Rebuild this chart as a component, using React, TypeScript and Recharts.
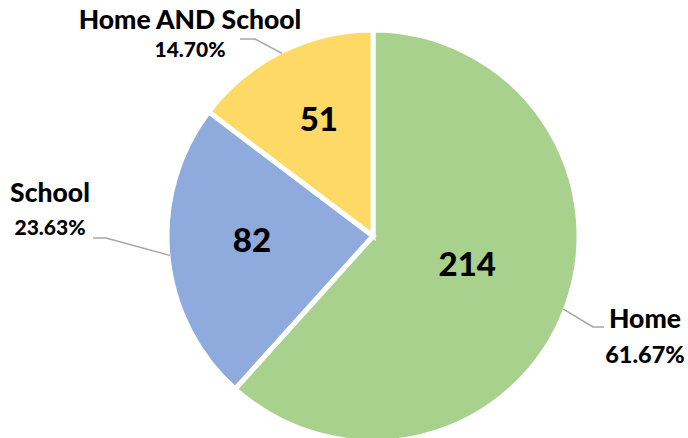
import React from "react";
import { PieChart, Pie, Cell } from "recharts";

const categories = ["Home", "School", "Home AND School"];
const counts = [214, 82, 51];
const percentLabels = ["61.67%", "23.63%", "14.70%"];
const colors = ["#A9D18E", "#8FAADC", "#FFD966"];

const data = categories.map((name, i) => ({ name, value: counts[i], pct: percentLabels[i] }));

// label layout (offsets from pie centre), per slice
const labelLayout = [
    { text: [272, 82], gap: 36, pctSize: 23.5, elbow: [220, 91], end: [231, 91], inner: 0.49 },
    { text: [-323, -44], gap: 34, pctSize: 21, elbow: [-267, 2], end: [-280, 2], inner: 0.59 },
    { text: [-183, -217], gap: 29, pctSize: 21, elbow: [-118, -197], end: [-133, -197], inner: 0.59 },
];

const RAD = Math.PI / 180;
const FONT = "Lato, 'Open Sans', sans-serif";

const renderLabel = (props: any) => {
    const { cx, cy, midAngle, outerRadius, index, value, payload } = props;
    const lay = labelLayout[index];
    const r = outerRadius - 2;
    const ex = cx + r * Math.cos(-midAngle * RAD);
    const ey = cy + r * Math.sin(-midAngle * RAD);
    const ir = outerRadius * lay.inner;
    const ix = cx + ir * Math.cos(-midAngle * RAD);
    const iy = cy + ir * Math.sin(-midAngle * RAD) - 9;
    const tx = cx + lay.text[0];
    const ty = cy + lay.text[1];
    return (
        <g>
            <polyline
                points={`${ex},${ey} ${cx + lay.elbow[0]},${cy + lay.elbow[1]} ${cx + lay.end[0]},${cy + lay.end[1]}`}
                fill="none"
                stroke="#A6A6A6"
                strokeWidth={1.5}
            />
            <text x={ix} y={iy} textAnchor="middle" dominantBaseline="central" fontFamily={FONT} fontWeight={900} fontSize={33} fill="#000">
                {value}
            </text>
            <text x={tx} y={ty} textAnchor="middle" dominantBaseline="central" fontFamily={FONT} fontWeight={900} fontSize={26.5} fill="#000">
                {payload.name}
            </text>
            <text x={tx} y={ty + lay.gap} textAnchor="middle" dominantBaseline="central" fontFamily={FONT} fontWeight={900} fontSize={lay.pctSize} fill="#000">
                {payload.pct}
            </text>
        </g>
    );
};

const App = () => {
    return (
        <div style={{ position: "absolute", left: 0, top: 0, width: 688, height: 438, background: "#fff" }}>
            <PieChart width={688} height={438}>
                <Pie
                    data={data}
                    dataKey="value"
                    nameKey="name"
                    cx={368}
                    cy={231}
                    outerRadius={206}
                    startAngle={90}
                    endAngle={-270}
                    stroke="#fff"
                    strokeWidth={5}
                    label={renderLabel}
                    labelLine={false}
                    isAnimationActive={false}
                >
                    {data.map((d, i) => (
                        <Cell key={d.name} fill={colors[i]} />
                    ))}
                </Pie>
            </PieChart>
        </div>
    );
};

export default App;
